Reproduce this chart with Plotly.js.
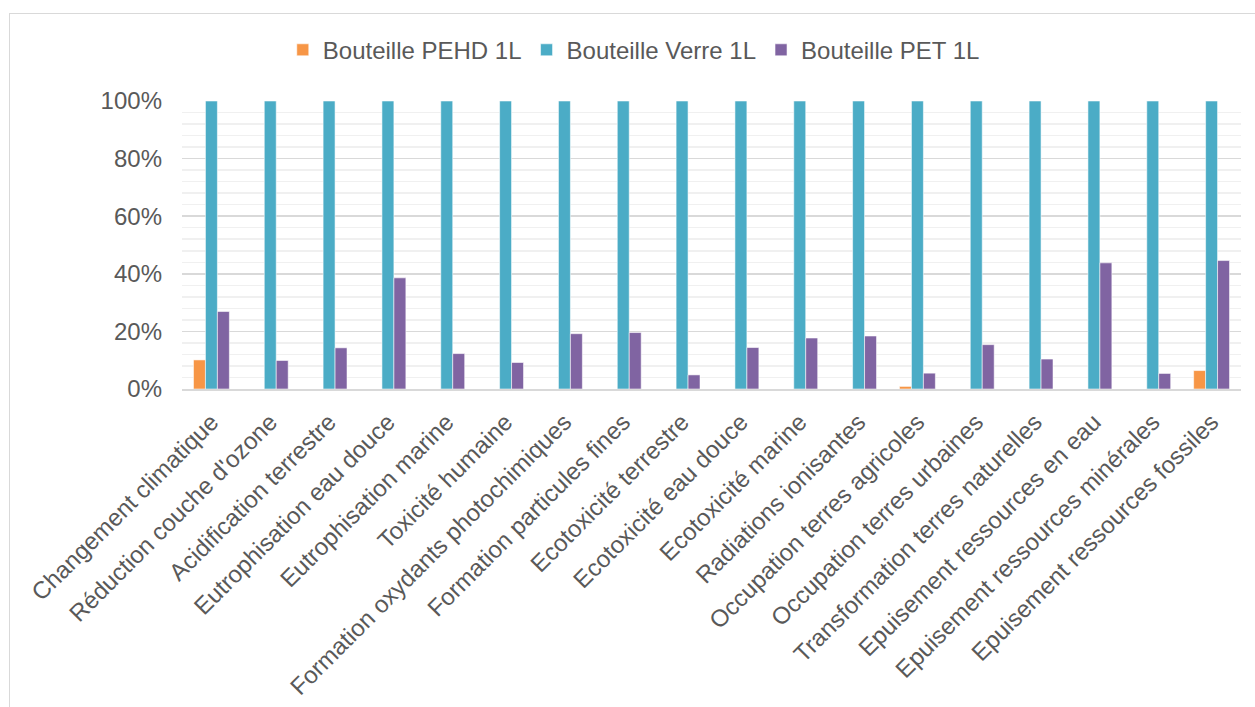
<!DOCTYPE html>
<html>
<head>
<meta charset="utf-8">
<script src="https://cdn.plot.ly/plotly-3.0.1.min.js"></script>
<style>
  html, body { margin: 0; padding: 0; background: #ffffff; }
  #wrap { position: relative; width: 1255px; height: 707px; overflow: hidden; }
  #chart { position: absolute; left: 0; top: 0; width: 1255px; height: 707px; }
  #frame { position: absolute; left: 9px; top: 13px; width: 1260px; height: 720px;
           border: 1.5px solid #d9d9d9; pointer-events: none; box-sizing: border-box; }
</style>
</head>
<body>
<div id="wrap">
  <div id="chart"></div>
  <div id="frame"></div>
</div>
<script>
const categories = [
  "Changement climatique",
  "Réduction couche d'ozone",
  "Acidification terrestre",
  "Eutrophisation eau douce",
  "Eutrophisation marine",
  "Toxicité humaine",
  "Formation oxydants photochimiques",
  "Formation particules fines",
  "Ecotoxicité terrestre",
  "Ecotoxicité eau douce",
  "Ecotoxicité marine",
  "Radiations ionisantes",
  "Occupation terres agricoles",
  "Occupation terres urbaines",
  "Transformation terres naturelles",
  "Epuisement ressources en eau",
  "Epuisement ressources minérales",
  "Epuisement ressources fossiles"
];
const seriesNames = ["Bouteille PEHD 1L", "Bouteille Verre 1L", "Bouteille PET 1L"];
const pehd  = [0.101, null, null, null, null, null, null, null, null, null, null, null, 0.009, null, null, null, null, 0.064];
const verre = [1, 1, 1, 1, 1, 1, 1, 1, 1, 1, 1, 1, 1, 1, 1, 1, 1, 1];
const pet   = [0.269, 0.099, 0.143, 0.386, 0.123, 0.092, 0.192, 0.196, 0.049, 0.144, 0.177, 0.184, 0.055, 0.154, 0.104, 0.438, 0.054, 0.446];
const yTickVals = [0, 0.2, 0.4, 0.6, 0.8, 1.0];
const yTickText = ["0%", "20%", "40%", "60%", "80%", "100%"];

const colors = ["#F79646", "#4BACC6", "#8064A2"];
const values = [pehd, verre, pet];

const traces = values.map((v, i) => ({
  type: "bar",
  name: seriesNames[i],
  x: categories,
  y: v,
  marker: { color: colors[i], line: { color: "rgba(255,255,255,0.55)", width: 1 } },
  hoverinfo: "x+y+name"
}));

const textColor = "#595959";
const fontFamily = "'Liberation Sans', Arial, sans-serif";
const fs = 24;

const layout = {
  width: 1255,
  height: 707,
  paper_bgcolor: "rgba(0,0,0,0)",
  plot_bgcolor: "#ffffff",
  margin: { l: 182, r: 14, t: 101, b: 317.5, pad: 0 },
  barmode: "group",
  bargap: 0.39,
  bargroupgap: 0,
  font: { family: fontFamily, color: textColor, size: fs },
  showlegend: true,
  legend: {
    orientation: "h",
    xref: "container", yref: "container",
    x: 0.505, xanchor: "center",
    y: 0.929, yanchor: "middle",
    font: { family: fontFamily, color: textColor, size: fs },
    itemwidth: 30,
    tracegroupgap: 0,
    itemclick: false
  },
  xaxis: {
    type: "category",
    tickangle: -45,
    automargin: false,
    showgrid: false,
    showline: true,
    linecolor: "#d9d9d9",
    linewidth: 1.5,
    ticks: "",
    tickfont: { family: fontFamily, color: textColor, size: fs },
    ticklabelstandoff: 8
  },
  yaxis: {
    range: [0, 1],
    automargin: false,
    tickvals: yTickVals,
    ticktext: yTickText,
    showgrid: true,
    gridcolor: "#d9d9d9",
    gridwidth: 1.5,
    zeroline: false,
    showline: false,
    ticks: "",
    tickfont: { family: fontFamily, color: textColor, size: fs },
    ticklabelstandoff: 19,
    minor: { dtick: 0.04, showgrid: true, gridcolor: "#f0f0f0", gridwidth: 1.5 }
  }
};

Plotly.newPlot("chart", traces, layout, { displayModeBar: false, staticPlot: true });
</script>
</body>
</html>
